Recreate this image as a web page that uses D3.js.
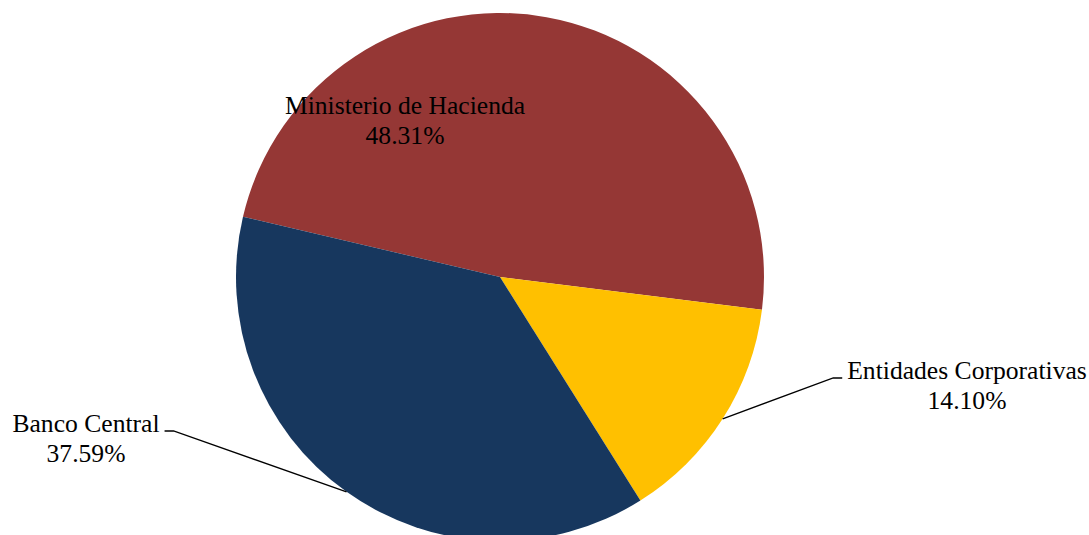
<!DOCTYPE html>
<html>
<head>
<meta charset="utf-8">
<script src="https://cdn.jsdelivr.net/npm/d3@7"></script>
<style>
  body { margin: 0; background: #ffffff; overflow: hidden; }
  text { font-family: "Liberation Serif", "Times New Roman", serif; font-size: 25.6px; fill: #000000; }
</style>
</head>
<body>
<script>
const width = 1089;
const height = 535;

// data
const categories = ["Ministerio de Hacienda", "Entidades Corporativas", "Banco Central"];
const shares = [48.31, 14.10, 37.59];
const colors = ["#953735", "#FFC000", "#17375E"];

// label placement (offset of first text line from the pie centre)
const labelOffsets = [[-95, -163], [467, 102], [-414, 155]];
const leaderSide = [null, "left", "right"];

const cx = 500, cy = 277, radius = 264;
const startDeg = -76.8;

const svg = d3.select("body")
  .append("svg")
  .attr("width", width)
  .attr("height", height);

const g = svg.append("g")
  .attr("transform", `translate(${cx},${cy})`);

const pie = d3.pie()
  .sort(null)
  .value(d => d.value)
  .startAngle(startDeg * Math.PI / 180)
  .endAngle(startDeg * Math.PI / 180 + 2 * Math.PI);

const data = categories.map((c, i) => ({ name: c, value: shares[i], color: colors[i] }));
const arcs = pie(data);

const arc = d3.arc().innerRadius(0).outerRadius(radius);

g.selectAll("path.slice")
  .data(arcs)
  .join("path")
  .attr("class", "slice")
  .attr("d", arc)
  .attr("fill", d => d.data.color);

const lineHeight = 29.5;

arcs.forEach((a, i) => {
  const [ox, oy] = labelOffsets[i];
  const label = g.append("text")
    .attr("text-anchor", "middle")
    .attr("x", ox)
    .attr("y", oy);
  label.append("tspan").attr("x", ox).text(a.data.name);
  label.append("tspan").attr("x", ox).attr("dy", lineHeight).text(a.data.value.toFixed(2) + "%");

  if (leaderSide[i]) {
    const w = label.node().querySelector("tspan").getComputedTextLength();
    const mid = (a.startAngle + a.endAngle) / 2;
    const p0 = [Math.sin(mid) * radius, -Math.cos(mid) * radius];
    const ly = oy - 1;
    let end, elbow;
    if (leaderSide[i] === "left") {
      end = [ox - w / 2 - 5, ly];
      elbow = [end[0] - 9, ly];
    } else {
      end = [ox + w / 2 + 5, ly];
      elbow = [end[0] + 9, ly];
    }
    g.append("path")
      .attr("d", d3.line()([p0, elbow, end]))
      .attr("fill", "none")
      .attr("stroke", "#000000")
      .attr("stroke-width", 1.3);
  }
});
</script>
</body>
</html>
